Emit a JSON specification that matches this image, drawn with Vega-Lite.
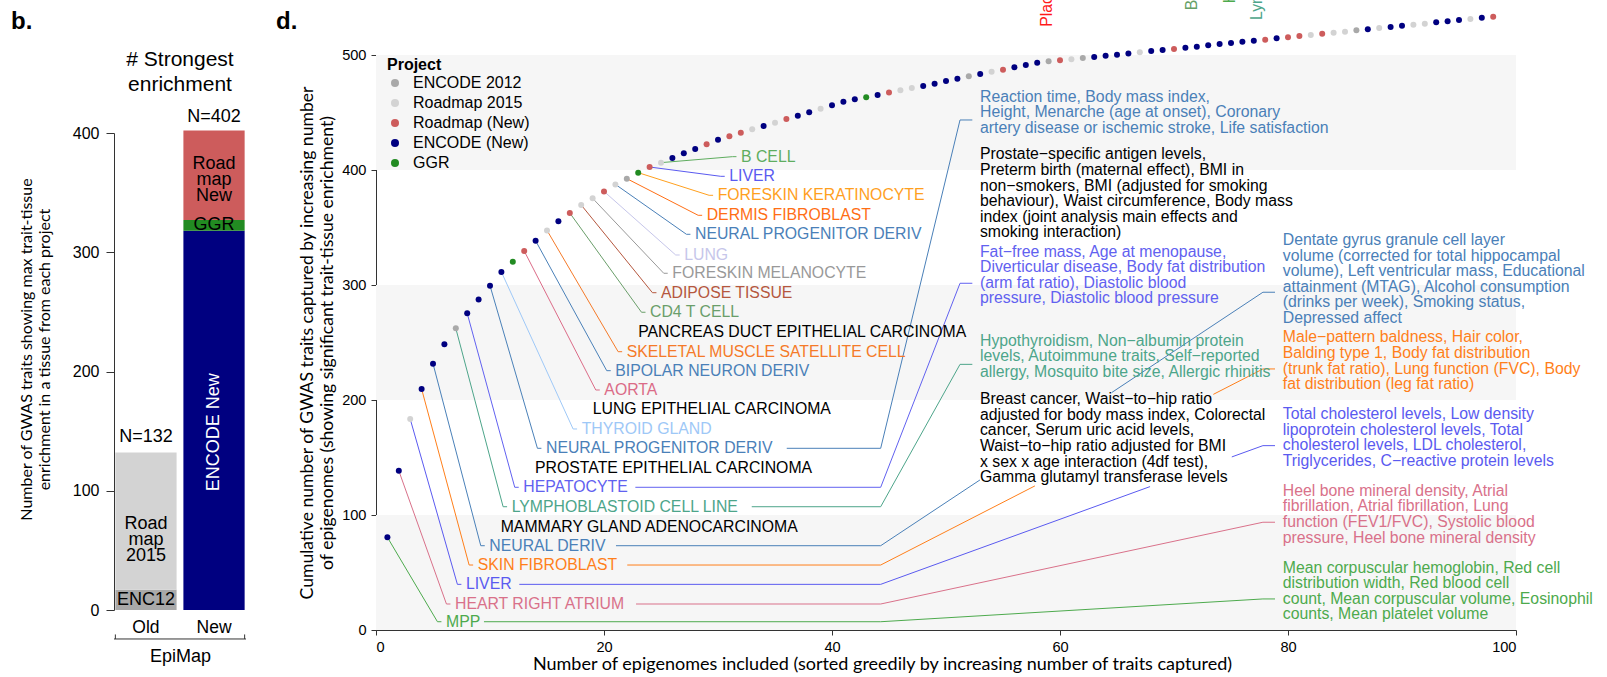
{
  "$schema": "https://vega.github.io/schema/vega-lite/v6.json",
  "padding": {"left": 11, "top": 0, "right": 0, "bottom": 0},
  "bounds": "flush",
  "spacing": 130,
  "config": {
    "font": "Liberation Sans",
    "view": {"stroke": null},
    "axis": {"grid": false, "labelColor": "#000", "titleColor": "#000", "domainColor": "#333", "tickColor": "#333", "titleFontWeight": "normal", "titleFont": "Lato", "labelFont": "Liberation Sans"},
    "title": {"color": "#000"}
  },
  "datasets": {
    "bars": [
      {"g": "Old", "src": "ENC12", "v": 17, "k": 1},
      {"g": "Old", "src": "Roadmap 2015", "v": 115, "k": 2},
      {"g": "New", "src": "ENCODE New", "v": 318, "k": 1},
      {"g": "New", "src": "GGR", "v": 9, "k": 2},
      {"g": "New", "src": "Roadmap New", "v": 75, "k": 3}
    ],
    "barText": [
      {"g": "Old", "y": 8.4, "txt": "ENC12"},
      {"g": "Old", "y": 72.4, "txt": "Road\nmap\n2015"},
      {"g": "New", "y": 322.8, "txt": "GGR"},
      {"g": "New", "y": 374, "txt": "Road\nmap\nNew"},
      {"g": "Old", "y": 145, "txt": "N=132"},
      {"g": "New", "y": 413.4, "txt": "N=402"}
    ],
    "barVText": [{"g": "New", "y": 149, "txt": "ENCODE New"}],
    "heading": [{"y": 461.2, "txt": "# Strongest\nenrichment"}],
    "bracket": [{"lo": -24.3, "hi": -20.5}],
    "bands": [{"lo": 0, "hi": 100}, {"lo": 200, "hi": 300}, {"lo": 400, "hi": 500}],
    "points": [
      {"i": 1, "y": 80.6, "p": "ENCODE (New)"},
      {"i": 2, "y": 138.5, "p": "ENCODE (New)"},
      {"i": 3, "y": 183.5, "p": "Roadmap 2015"},
      {"i": 4, "y": 209.6, "p": "ENCODE (New)"},
      {"i": 5, "y": 231.6, "p": "ENCODE (New)"},
      {"i": 6, "y": 248.4, "p": "ENCODE (New)"},
      {"i": 7, "y": 262.3, "p": "ENCODE 2012"},
      {"i": 8, "y": 275.4, "p": "ENCODE (New)"},
      {"i": 9, "y": 287.3, "p": "ENCODE (New)"},
      {"i": 10, "y": 299.4, "p": "ENCODE (New)"},
      {"i": 11, "y": 311.3, "p": "ENCODE (New)"},
      {"i": 12, "y": 320.3, "p": "GGR"},
      {"i": 13, "y": 329.6, "p": "Roadmap (New)"},
      {"i": 14, "y": 338.5, "p": "ENCODE (New)"},
      {"i": 15, "y": 347.5, "p": "Roadmap 2015"},
      {"i": 16, "y": 355.4, "p": "ENCODE (New)"},
      {"i": 17, "y": 362.6, "p": "Roadmap (New)"},
      {"i": 18, "y": 369.6, "p": "Roadmap 2015"},
      {"i": 19, "y": 375.4, "p": "Roadmap 2015"},
      {"i": 20, "y": 381.4, "p": "Roadmap (New)"},
      {"i": 21, "y": 387.5, "p": "Roadmap 2015"},
      {"i": 22, "y": 392.5, "p": "ENCODE 2012"},
      {"i": 23, "y": 397.7, "p": "GGR"},
      {"i": 24, "y": 402.6, "p": "Roadmap (New)"},
      {"i": 25, "y": 406.4, "p": "Roadmap 2015"},
      {"i": 26, "y": 410.4, "p": "ENCODE (New)"},
      {"i": 27, "y": 414.5, "p": "ENCODE (New)"},
      {"i": 28, "y": 418.3, "p": "ENCODE (New)"},
      {"i": 29, "y": 422.3, "p": "Roadmap (New)"},
      {"i": 30, "y": 426.4, "p": "ENCODE (New)"},
      {"i": 31, "y": 429.3, "p": "Roadmap (New)"},
      {"i": 32, "y": 432.5, "p": "Roadmap (New)"},
      {"i": 33, "y": 435.4, "p": "Roadmap 2015"},
      {"i": 34, "y": 438.3, "p": "ENCODE (New)"},
      {"i": 35, "y": 441.1, "p": "Roadmap 2015"},
      {"i": 36, "y": 444.3, "p": "Roadmap (New)"},
      {"i": 37, "y": 447.2, "p": "ENCODE (New)"},
      {"i": 38, "y": 450.2, "p": "ENCODE (New)"},
      {"i": 39, "y": 453.3, "p": "Roadmap 2015"},
      {"i": 40, "y": 456.2, "p": "ENCODE (New)"},
      {"i": 41, "y": 459.4, "p": "ENCODE (New)"},
      {"i": 42, "y": 461.5, "p": "ENCODE (New)"},
      {"i": 43, "y": 463.2, "p": "GGR"},
      {"i": 44, "y": 465.2, "p": "ENCODE (New)"},
      {"i": 45, "y": 467.5, "p": "Roadmap (New)"},
      {"i": 46, "y": 469.3, "p": "Roadmap 2015"},
      {"i": 47, "y": 471.3, "p": "Roadmap 2015"},
      {"i": 48, "y": 473, "p": "ENCODE (New)"},
      {"i": 49, "y": 475, "p": "ENCODE (New)"},
      {"i": 50, "y": 477.4, "p": "ENCODE (New)"},
      {"i": 51, "y": 479.4, "p": "ENCODE (New)"},
      {"i": 52, "y": 481.5, "p": "ENCODE 2012"},
      {"i": 53, "y": 483.5, "p": "ENCODE (New)"},
      {"i": 54, "y": 485.5, "p": "Roadmap 2015"},
      {"i": 55, "y": 487.2, "p": "Roadmap (New)"},
      {"i": 56, "y": 489.3, "p": "ENCODE (New)"},
      {"i": 57, "y": 491.3, "p": "ENCODE (New)"},
      {"i": 58, "y": 493.3, "p": "ENCODE (New)"},
      {"i": 59, "y": 494.5, "p": "ENCODE 2012"},
      {"i": 60, "y": 495.4, "p": "Roadmap (New)"},
      {"i": 61, "y": 496.2, "p": "Roadmap 2015"},
      {"i": 62, "y": 497.4, "p": "ENCODE 2012"},
      {"i": 63, "y": 498.3, "p": "ENCODE (New)"},
      {"i": 64, "y": 499.4, "p": "ENCODE (New)"},
      {"i": 65, "y": 500.3, "p": "ENCODE (New)"},
      {"i": 66, "y": 501.4, "p": "ENCODE (New)"},
      {"i": 67, "y": 502.3, "p": "Roadmap 2015"},
      {"i": 68, "y": 503.5, "p": "ENCODE (New)"},
      {"i": 69, "y": 504.3, "p": "ENCODE (New)"},
      {"i": 70, "y": 505.2, "p": "Roadmap (New)"},
      {"i": 71, "y": 506.4, "p": "ENCODE (New)"},
      {"i": 72, "y": 507.2, "p": "ENCODE (New)"},
      {"i": 73, "y": 508.4, "p": "ENCODE (New)"},
      {"i": 74, "y": 509.6, "p": "ENCODE (New)"},
      {"i": 75, "y": 510.4, "p": "ENCODE (New)"},
      {"i": 76, "y": 511.6, "p": "ENCODE (New)"},
      {"i": 77, "y": 512.4, "p": "ENCODE (New)"},
      {"i": 78, "y": 513.3, "p": "Roadmap (New)"},
      {"i": 79, "y": 514.5, "p": "ENCODE (New)"},
      {"i": 80, "y": 515.4, "p": "Roadmap (New)"},
      {"i": 81, "y": 516.5, "p": "Roadmap (New)"},
      {"i": 82, "y": 517.4, "p": "Roadmap 2015"},
      {"i": 83, "y": 518.5, "p": "Roadmap (New)"},
      {"i": 84, "y": 519.4, "p": "Roadmap 2015"},
      {"i": 85, "y": 520.3, "p": "Roadmap 2015"},
      {"i": 86, "y": 521.5, "p": "ENCODE 2012"},
      {"i": 87, "y": 522.3, "p": "ENCODE (New)"},
      {"i": 88, "y": 523.5, "p": "Roadmap 2015"},
      {"i": 89, "y": 524.3, "p": "ENCODE (New)"},
      {"i": 90, "y": 525.5, "p": "ENCODE (New)"},
      {"i": 91, "y": 526.4, "p": "Roadmap 2015"},
      {"i": 92, "y": 527.2, "p": "Roadmap 2015"},
      {"i": 93, "y": 528.4, "p": "ENCODE (New)"},
      {"i": 94, "y": 529.3, "p": "ENCODE (New)"},
      {"i": 95, "y": 530.4, "p": "ENCODE (New)"},
      {"i": 96, "y": 531.3, "p": "Roadmap 2015"},
      {"i": 97, "y": 532.4, "p": "ENCODE (New)"},
      {"i": 98, "y": 533.3, "p": "Roadmap (New)"}
    ],
    "leaders": [
      {"id": "a1", "o": 0, "x": 1, "y": 80.6, "t": "MPP"},
      {"id": "a1", "o": 1, "x": 5.39, "y": 7.2, "t": "MPP"},
      {"id": "a1", "o": 2, "x": 5.74, "y": 7.2, "t": "MPP"},
      {"id": "a2", "o": 0, "x": 2, "y": 138.5, "t": "HEART RIGHT ATRIUM"},
      {"id": "a2", "o": 1, "x": 6.18, "y": 22.6, "t": "HEART RIGHT ATRIUM"},
      {"id": "a2", "o": 2, "x": 6.53, "y": 22.6, "t": "HEART RIGHT ATRIUM"},
      {"id": "a3", "o": 0, "x": 3, "y": 183.5, "t": "LIVER"},
      {"id": "a3", "o": 1, "x": 7.14, "y": 39.7, "t": "LIVER"},
      {"id": "a3", "o": 2, "x": 7.49, "y": 39.7, "t": "LIVER"},
      {"id": "a4", "o": 0, "x": 4, "y": 209.6, "t": "SKIN FIBROBLAST"},
      {"id": "a4", "o": 1, "x": 8.17, "y": 56.5, "t": "SKIN FIBROBLAST"},
      {"id": "a4", "o": 2, "x": 8.52, "y": 56.5, "t": "SKIN FIBROBLAST"},
      {"id": "a5", "o": 0, "x": 5, "y": 231.6, "t": "NEURAL DERIV"},
      {"id": "a5", "o": 1, "x": 9.19, "y": 73.3, "t": "NEURAL DERIV"},
      {"id": "a5", "o": 2, "x": 9.54, "y": 73.3, "t": "NEURAL DERIV"},
      {"id": "a7", "o": 0, "x": 7, "y": 262.3, "t": "LYMPHOBLASTOID CELL LINE"},
      {"id": "a7", "o": 1, "x": 11.15, "y": 107.2, "t": "LYMPHOBLASTOID CELL LINE"},
      {"id": "a7", "o": 2, "x": 11.5, "y": 107.2, "t": "LYMPHOBLASTOID CELL LINE"},
      {"id": "a8", "o": 0, "x": 8, "y": 275.4, "t": "HEPATOCYTE"},
      {"id": "a8", "o": 1, "x": 12.17, "y": 124.1, "t": "HEPATOCYTE"},
      {"id": "a8", "o": 2, "x": 12.52, "y": 124.1, "t": "HEPATOCYTE"},
      {"id": "a10", "o": 0, "x": 10, "y": 299.4, "t": "NEURAL PROGENITOR DERIV"},
      {"id": "a10", "o": 1, "x": 14.16, "y": 158, "t": "NEURAL PROGENITOR DERIV"},
      {"id": "a10", "o": 2, "x": 14.51, "y": 158, "t": "NEURAL PROGENITOR DERIV"},
      {"id": "a11", "o": 0, "x": 11, "y": 311.3, "t": "THYROID GLAND"},
      {"id": "a11", "o": 1, "x": 17.29, "y": 174.8, "t": "THYROID GLAND"},
      {"id": "a11", "o": 2, "x": 17.64, "y": 174.8, "t": "THYROID GLAND"},
      {"id": "a13", "o": 0, "x": 13, "y": 329.6, "t": "AORTA"},
      {"id": "a13", "o": 1, "x": 19.28, "y": 208.7, "t": "AORTA"},
      {"id": "a13", "o": 2, "x": 19.63, "y": 208.7, "t": "AORTA"},
      {"id": "a14", "o": 0, "x": 14, "y": 338.5, "t": "BIPOLAR NEURON DERIV"},
      {"id": "a14", "o": 1, "x": 20.24, "y": 225.5, "t": "BIPOLAR NEURON DERIV"},
      {"id": "a14", "o": 2, "x": 20.59, "y": 225.5, "t": "BIPOLAR NEURON DERIV"},
      {"id": "a15", "o": 0, "x": 15, "y": 347.5, "t": "SKELETAL MUSCLE SATELLITE CELL"},
      {"id": "a15", "o": 1, "x": 21.24, "y": 242, "t": "SKELETAL MUSCLE SATELLITE CELL"},
      {"id": "a15", "o": 2, "x": 21.59, "y": 242, "t": "SKELETAL MUSCLE SATELLITE CELL"},
      {"id": "a17", "o": 0, "x": 17, "y": 362.6, "t": "CD4 T CELL"},
      {"id": "a17", "o": 1, "x": 23.29, "y": 276.3, "t": "CD4 T CELL"},
      {"id": "a17", "o": 2, "x": 23.64, "y": 276.3, "t": "CD4 T CELL"},
      {"id": "a18", "o": 0, "x": 18, "y": 369.6, "t": "ADIPOSE TISSUE"},
      {"id": "a18", "o": 1, "x": 24.25, "y": 293.3, "t": "ADIPOSE TISSUE"},
      {"id": "a18", "o": 2, "x": 24.6, "y": 293.3, "t": "ADIPOSE TISSUE"},
      {"id": "a19", "o": 0, "x": 19, "y": 375.4, "t": "FORESKIN MELANOCYTE"},
      {"id": "a19", "o": 1, "x": 25.24, "y": 310.2, "t": "FORESKIN MELANOCYTE"},
      {"id": "a19", "o": 2, "x": 25.59, "y": 310.2, "t": "FORESKIN MELANOCYTE"},
      {"id": "a20", "o": 0, "x": 20, "y": 381.4, "t": "LUNG"},
      {"id": "a20", "o": 1, "x": 26.29, "y": 326.1, "t": "LUNG"},
      {"id": "a20", "o": 2, "x": 26.64, "y": 326.1, "t": "LUNG"},
      {"id": "a21", "o": 0, "x": 21, "y": 387.5, "t": "NEURAL PROGENITOR DERIV"},
      {"id": "a21", "o": 1, "x": 27.23, "y": 344.1, "t": "NEURAL PROGENITOR DERIV"},
      {"id": "a21", "o": 2, "x": 27.58, "y": 344.1, "t": "NEURAL PROGENITOR DERIV"},
      {"id": "a22", "o": 0, "x": 22, "y": 392.5, "t": "DERMIS FIBROBLAST"},
      {"id": "a22", "o": 1, "x": 28.26, "y": 360.6, "t": "DERMIS FIBROBLAST"},
      {"id": "a22", "o": 2, "x": 28.61, "y": 360.6, "t": "DERMIS FIBROBLAST"},
      {"id": "a23", "o": 0, "x": 23, "y": 397.7, "t": "FORESKIN KERATINOCYTE"},
      {"id": "a23", "o": 1, "x": 29.22, "y": 378, "t": "FORESKIN KERATINOCYTE"},
      {"id": "a23", "o": 2, "x": 29.57, "y": 378, "t": "FORESKIN KERATINOCYTE"},
      {"id": "a24", "o": 0, "x": 24, "y": 402.6, "t": "LIVER"},
      {"id": "a24", "o": 1, "x": 30.24, "y": 394.5, "t": "LIVER"},
      {"id": "a24", "o": 2, "x": 30.59, "y": 394.5, "t": "LIVER"},
      {"id": "a25", "o": 0, "x": 25, "y": 406.4, "t": "B CELL"},
      {"id": "a25", "o": 1, "x": 31.27, "y": 411.6, "t": "B CELL"},
      {"id": "a25", "o": 2, "x": 31.62, "y": 411.6, "t": "B CELL"},
      {"id": "m2", "o": 0, "x": 9.47, "y": 7.2, "t": "MPP"},
      {"id": "m2", "o": 1, "x": 44.27, "y": 7.2, "t": "MPP"},
      {"id": "m2", "o": 2, "x": 77.8, "y": 27, "t": "MPP"},
      {"id": "m2", "o": 3, "x": 78.86, "y": 27, "t": "MPP"},
      {"id": "h2", "o": 0, "x": 22.81, "y": 22.6, "t": "HEART RIGHT ATRIUM"},
      {"id": "h2", "o": 1, "x": 44.27, "y": 22.6, "t": "HEART RIGHT ATRIUM"},
      {"id": "h2", "o": 2, "x": 77.8, "y": 93.7, "t": "HEART RIGHT ATRIUM"},
      {"id": "h2", "o": 3, "x": 78.86, "y": 93.7, "t": "HEART RIGHT ATRIUM"},
      {"id": "l2a", "o": 0, "x": 12.57, "y": 39.7, "t": "LIVER"},
      {"id": "l2a", "o": 1, "x": 44.27, "y": 39.7, "t": "LIVER"},
      {"id": "l2a", "o": 2, "x": 67.9, "y": 124.7, "t": "LIVER"},
      {"id": "l2b", "o": 0, "x": 75.07, "y": 150.5, "t": "LIVER"},
      {"id": "l2b", "o": 1, "x": 77.8, "y": 160.3, "t": "LIVER"},
      {"id": "l2b", "o": 2, "x": 78.86, "y": 160.3, "t": "LIVER"},
      {"id": "s2a", "o": 0, "x": 22.04, "y": 56.5, "t": "SKIN FIBROBLAST"},
      {"id": "s2a", "o": 1, "x": 44.27, "y": 56.5, "t": "SKIN FIBROBLAST"},
      {"id": "s2a", "o": 2, "x": 57.8, "y": 125.3, "t": "SKIN FIBROBLAST"},
      {"id": "s2b", "o": 0, "x": 73.45, "y": 204.9, "t": "SKIN FIBROBLAST"},
      {"id": "s2b", "o": 1, "x": 77.8, "y": 227, "t": "SKIN FIBROBLAST"},
      {"id": "s2b", "o": 2, "x": 78.86, "y": 227, "t": "SKIN FIBROBLAST"},
      {"id": "n2a", "o": 0, "x": 21.05, "y": 73.3, "t": "NEURAL DERIV"},
      {"id": "n2a", "o": 1, "x": 44.27, "y": 73.3, "t": "NEURAL DERIV"},
      {"id": "n2a", "o": 2, "x": 52.98, "y": 130.5, "t": "NEURAL DERIV"},
      {"id": "n2b", "o": 0, "x": 64.54, "y": 206.5, "t": "NEURAL DERIV"},
      {"id": "n2b", "o": 1, "x": 77.8, "y": 293.7, "t": "NEURAL DERIV"},
      {"id": "n2b", "o": 2, "x": 78.86, "y": 293.7, "t": "NEURAL DERIV"},
      {"id": "y2", "o": 0, "x": 32.96, "y": 107.2, "t": "LYMPHOBLASTOID CELL LINE"},
      {"id": "y2", "o": 1, "x": 44.27, "y": 107.2, "t": "LYMPHOBLASTOID CELL LINE"},
      {"id": "y2", "o": 2, "x": 51.23, "y": 231, "t": "LYMPHOBLASTOID CELL LINE"},
      {"id": "y2", "o": 3, "x": 52.31, "y": 231, "t": "LYMPHOBLASTOID CELL LINE"},
      {"id": "p2", "o": 0, "x": 22.75, "y": 124.1, "t": "HEPATOCYTE"},
      {"id": "p2", "o": 1, "x": 44.27, "y": 124.1, "t": "HEPATOCYTE"},
      {"id": "p2", "o": 2, "x": 51.23, "y": 301.5, "t": "HEPATOCYTE"},
      {"id": "p2", "o": 3, "x": 52.31, "y": 301.5, "t": "HEPATOCYTE"},
      {"id": "g2", "o": 0, "x": 36.03, "y": 158, "t": "NEURAL PROGENITOR DERIV"},
      {"id": "g2", "o": 1, "x": 44.27, "y": 158, "t": "NEURAL PROGENITOR DERIV"},
      {"id": "g2", "o": 2, "x": 51.23, "y": 443.5, "t": "NEURAL PROGENITOR DERIV"},
      {"id": "g2", "o": 3, "x": 52.31, "y": 443.5, "t": "NEURAL PROGENITOR DERIV"}
    ],
    "cells": [
      {"t": "MPP", "lx": 6.14, "ly": 7.2},
      {"t": "HEART RIGHT ATRIUM", "lx": 6.93, "ly": 22.6},
      {"t": "LIVER", "lx": 7.89, "ly": 39.7},
      {"t": "SKIN FIBROBLAST", "lx": 8.92, "ly": 56.5},
      {"t": "NEURAL DERIV", "lx": 9.94, "ly": 73.3},
      {"t": "MAMMARY GLAND ADENOCARCINOMA", "lx": 10.94, "ly": 89.8},
      {"t": "LYMPHOBLASTOID CELL LINE", "lx": 11.9, "ly": 107.2},
      {"t": "HEPATOCYTE", "lx": 12.92, "ly": 124.1},
      {"t": "PROSTATE EPITHELIAL CARCINOMA", "lx": 13.95, "ly": 141.1},
      {"t": "NEURAL PROGENITOR DERIV", "lx": 14.91, "ly": 158},
      {"t": "THYROID GLAND", "lx": 18.04, "ly": 174.8},
      {"t": "LUNG EPITHELIAL CARCINOMA", "lx": 19.01, "ly": 191.9},
      {"t": "AORTA", "lx": 20.03, "ly": 208.7},
      {"t": "BIPOLAR NEURON DERIV", "lx": 20.99, "ly": 225.5},
      {"t": "SKELETAL MUSCLE SATELLITE CELL", "lx": 21.99, "ly": 242},
      {"t": "PANCREAS DUCT EPITHELIAL CARCINOMA", "lx": 23.0, "ly": 259.4},
      {"t": "CD4 T CELL", "lx": 24.04, "ly": 276.3},
      {"t": "ADIPOSE TISSUE", "lx": 25.0, "ly": 293.3},
      {"t": "FORESKIN MELANOCYTE", "lx": 25.99, "ly": 310.2},
      {"t": "LUNG", "lx": 27.04, "ly": 326.1},
      {"t": "NEURAL PROGENITOR DERIV", "lx": 27.98, "ly": 344.1},
      {"t": "DERMIS FIBROBLAST", "lx": 29.01, "ly": 360.6},
      {"t": "FORESKIN KERATINOCYTE", "lx": 29.97, "ly": 378},
      {"t": "LIVER", "lx": 30.99, "ly": 394.5},
      {"t": "B CELL", "lx": 32.02, "ly": 411.6}
    ],
    "traits": [
      {"t": "NEURAL PROGENITOR DERIV", "tx": 52.98, "ty": 463.7, "txt": "Reaction time, Body mass index,\nHeight, Menarche (age at onset), Coronary\nartery disease or ischemic stroke, Life satisfaction"},
      {"t": "PROSTATE EPITHELIAL CARCINOMA", "tx": 52.98, "ty": 413.6, "txt": "Prostate−specific antigen levels,\nPreterm birth (maternal effect), BMI in\nnon−smokers, BMI (adjusted for smoking\nbehaviour), Waist circumference, Body mass\nindex (joint analysis main effects and\nsmoking interaction)"},
      {"t": "HEPATOCYTE", "tx": 52.98, "ty": 329.0, "txt": "Fat−free mass, Age at menopause,\nDiverticular disease, Body fat distribution\n(arm fat ratio), Diastolic blood\npressure, Diastolic blood pressure"},
      {"t": "LYMPHOBLASTOID CELL LINE", "tx": 52.98, "ty": 251.6, "txt": "Hypothyroidism, Non−albumin protein\nlevels, Autoimmune traits, Self−reported\nallergy, Mosquito bite size, Allergic rhinitis"},
      {"t": "MAMMARY GLAND ADENOCARCINOMA", "tx": 52.98, "ty": 200.6, "txt": "Breast cancer, Waist−to−hip ratio\nadjusted for body mass index, Colorectal\ncancer, Serum uric acid levels,\nWaist−to−hip ratio adjusted for BMI\nx sex x age interaction (4df test),\nGamma glutamyl transferase levels"},
      {"t": "NEURAL DERIV", "tx": 79.54, "ty": 339.1, "txt": "Dentate gyrus granule cell layer\nvolume (corrected for total hippocampal\nvolume), Left ventricular mass, Educational\nattainment (MTAG), Alcohol consumption\n(drinks per week), Smoking status,\nDepressed affect"},
      {"t": "SKIN FIBROBLAST", "tx": 79.54, "ty": 254.5, "txt": "Male−pattern baldness, Hair color,\nBalding type 1, Body fat distribution\n(trunk fat ratio), Lung function (FVC), Body\nfat distribution (leg fat ratio)"},
      {"t": "LIVER", "tx": 79.54, "ty": 187.8, "txt": "Total cholesterol levels, Low density\nlipoprotein cholesterol levels, Total\ncholesterol levels, LDL cholesterol,\nTriglycerides, C−reactive protein levels"},
      {"t": "HEART RIGHT ATRIUM", "tx": 79.54, "ty": 121.1, "txt": "Heel bone mineral density, Atrial\nfibrillation, Atrial fibrillation, Lung\nfunction (FEV1/FVC), Systolic blood\npressure, Heel bone mineral density"},
      {"t": "MPP", "tx": 79.54, "ty": 54.2, "txt": "Mean corpuscular hemoglobin, Red cell\ndistribution width, Red blood cell\ncount, Mean corpuscular volume, Eosinophil\ncounts, Mean platelet volume"}
    ],
    "groups": [
      {"t": "Placenta & EEM", "gx": 58.9, "gy": 524.6},
      {"t": "Blood & T-cell", "gx": 71.55, "gy": 539},
      {"t": "HSC & B-cell", "gx": 74.9, "gy": 545},
      {"t": "Lymphoblastoid", "gx": 77.3, "gy": 530.4}
    ]
  },
  "hconcat": [
    {
      "width": 132,
      "height": 610,
      "title": {"text": "b.", "anchor": "start", "frame": "group", "dx": -103, "dy": 53, "offset": 0, "baseline": "alphabetic", "fontSize": 24, "fontWeight": "bold", "font": "Liberation Sans"},
      "layer": [
        {
          "data": {"name": "bars"},
          "mark": {"type": "bar"},
          "encoding": {
            "x": {"field": "g", "type": "nominal", "sort": ["Old", "New"], "scale": {"paddingInner": 0.1, "paddingOuter": 0.02},
                  "axis": {"title": "EpiMap", "labelAngle": 0, "ticks": false, "domain": false, "labelFontSize": 17.5, "labelPadding": 8, "titleFont": "Liberation Sans", "titleFontSize": 18, "titlePadding": 12}},
            "y": {"field": "v", "type": "quantitative", "stack": "zero", "scale": {"domain": [0, 400], "nice": false, "rangeMax": 133},
                  "axis": {"values": [0, 100, 200, 300, 400], "tickSize": 8, "labelPadding": 7, "labelFontSize": 16, "title": ["Number of GWAS traits showing max trait-tissue", "enrichment in a tissue from each project"], "titleFontSize": 16, "titleLineHeight": 18, "titlePadding": 20, "titleY": 349}},
            "color": {"field": "src", "type": "nominal", "scale": {"domain": ["ENC12", "Roadmap 2015", "ENCODE New", "GGR", "Roadmap New"], "range": ["#A9A9A9", "#D3D3D3", "#000080", "#228B22", "#CD5C5C"]}, "legend": null},
            "order": {"field": "k", "type": "quantitative"}
          }
        },
        {
          "data": {"name": "barText"},
          "mark": {"type": "text", "fontSize": 18, "lineHeight": 16, "lineBreak": "\n", "baseline": "middle", "align": "center", "color": "#000"},
          "encoding": {
            "x": {"field": "g", "type": "nominal", "sort": ["Old", "New"]},
            "y": {"field": "y", "type": "quantitative"},
            "text": {"field": "txt", "type": "nominal"}
          }
        },
        {
          "data": {"name": "barVText"},
          "mark": {"type": "text", "fontSize": 18, "angle": 270, "baseline": "middle", "align": "center", "color": "#FFFFFF"},
          "encoding": {
            "x": {"field": "g", "type": "nominal", "sort": ["Old", "New"]},
            "y": {"field": "y", "type": "quantitative"},
            "text": {"field": "txt", "type": "nominal"}
          }
        },
        {
          "data": {"name": "heading"},
          "mark": {"type": "text", "fontSize": 21, "lineHeight": 24.6, "lineBreak": "\n", "baseline": "middle", "align": "center", "color": "#000"},
          "encoding": {
            "y": {"field": "y", "type": "quantitative"},
            "text": {"field": "txt", "type": "nominal"}
          }
        },
        {
          "data": {"name": "bracket"},
          "mark": {"type": "rule", "color": "#333", "strokeWidth": 1},
          "encoding": {"y": {"field": "lo", "type": "quantitative"}}
        },
        {
          "data": {"name": "bracket"},
          "mark": {"type": "rule", "color": "#333", "strokeWidth": 1},
          "encoding": {"x": {"datum": "Old", "bandPosition": 0}, "y": {"field": "lo", "type": "quantitative"}, "y2": {"field": "hi"}}
        },
        {
          "data": {"name": "bracket"},
          "mark": {"type": "rule", "color": "#333", "strokeWidth": 1},
          "encoding": {"x": {"datum": "New", "bandPosition": 1}, "y": {"field": "lo", "type": "quantitative"}, "y2": {"field": "hi"}}
        }
      ]
    },
    {
      "width": 1140,
      "height": 630,
      "title": {"text": "d.", "anchor": "start", "frame": "group", "dx": -100, "dy": 53, "offset": 0, "baseline": "alphabetic", "fontSize": 24, "fontWeight": "bold", "font": "Liberation Sans"},
      "resolve": {"scale": {"color": "independent"}},
      "layer": [
        {
          "data": {"name": "bands"},
          "mark": {"type": "rect", "color": "#F6F6F6"},
          "encoding": {
            "x": {"datum": 0, "type": "quantitative", "scale": {"domain": [0, 100], "nice": false, "zero": false},
                  "axis": {"values": [0, 20, 40, 60, 80, 100], "title": "Number of epigenomes included (sorted greedily by increasing number of traits captured)", "tickSize": 5, "labelPadding": 4, "labelFontSize": 14.6, "titleFontSize": 18, "titlePadding": 2, "titleX": 506}},
            "x2": {"datum": 100},
            "y": {"field": "lo", "type": "quantitative", "scale": {"domain": [0, 500], "nice": false, "rangeMax": 55},
                  "axis": {"values": [0, 100, 200, 300, 400, 500], "title": ["Cumulative number of GWAS traits captured by increasing number", "of epigenomes (showing significant trait-tissue enrichment)"], "tickSize": 5, "labelPadding": 5, "labelFontSize": 14.6, "titleFontSize": 17.6, "titleLineHeight": 20, "titlePadding": 5}},
            "y2": {"field": "hi"}
          }
        },
        {
          "layer": [
            {
              "data": {"name": "leaders"},
              "mark": {"type": "line", "strokeWidth": 1},
              "encoding": {
                "x": {"field": "x", "type": "quantitative"},
                "y": {"field": "y", "type": "quantitative"},
                "detail": {"field": "id", "type": "nominal"},
                "order": {"field": "o", "type": "quantitative"},
                "color": {"field": "t", "type": "nominal", "legend": null,
                  "scale": {
                    "domain": ["MPP", "HEART RIGHT ATRIUM", "LIVER", "SKIN FIBROBLAST", "NEURAL DERIV", "MAMMARY GLAND ADENOCARCINOMA", "LYMPHOBLASTOID CELL LINE", "HEPATOCYTE", "PROSTATE EPITHELIAL CARCINOMA", "NEURAL PROGENITOR DERIV", "THYROID GLAND", "LUNG EPITHELIAL CARCINOMA", "AORTA", "BIPOLAR NEURON DERIV", "SKELETAL MUSCLE SATELLITE CELL", "PANCREAS DUCT EPITHELIAL CARCINOMA", "CD4 T CELL", "ADIPOSE TISSUE", "FORESKIN MELANOCYTE", "LUNG", "DERMIS FIBROBLAST", "FORESKIN KERATINOCYTE", "B CELL", "Placenta & EEM", "Blood & T-cell", "HSC & B-cell", "Lymphoblastoid"],
                    "range": ["#4DAA4D", "#D9718A", "#5A5AF0", "#FF7F1A", "#4A80B8", "#000000", "#4DA58A", "#6161F0", "#000000", "#4A80B8", "#9EC8F7", "#000000", "#DB6B87", "#4A80B8", "#F57A28", "#000000", "#6A9E6A", "#B5573E", "#999999", "#C6C6EA", "#FF6E14", "#FFA01E", "#5FAD5F", "#FF1A1A", "#66A066", "#4DAA4D", "#4DA58A"]
                  }}
              }
            },
            {
              "data": {"name": "cells"},
              "mark": {"type": "text", "fontSize": 15.8, "align": "left", "baseline": "middle"},
              "encoding": {
                "x": {"field": "lx", "type": "quantitative"},
                "y": {"field": "ly", "type": "quantitative"},
                "text": {"field": "t", "type": "nominal"},
                "color": {"field": "t", "type": "nominal", "legend": null}
              }
            },
            {
              "data": {"name": "traits"},
              "mark": {"type": "text", "fontSize": 15.8, "lineHeight": 15.6, "lineBreak": "\n", "align": "left", "baseline": "middle"},
              "encoding": {
                "x": {"field": "tx", "type": "quantitative"},
                "y": {"field": "ty", "type": "quantitative"},
                "text": {"field": "txt", "type": "nominal"},
                "color": {"field": "t", "type": "nominal", "legend": null}
              }
            },
            {
              "data": {"name": "groups"},
              "mark": {"type": "text", "fontSize": 15.8, "angle": 270, "align": "left", "baseline": "middle", "clip": true},
              "encoding": {
                "x": {"field": "gx", "type": "quantitative"},
                "y": {"field": "gy", "type": "quantitative"},
                "text": {"field": "t", "type": "nominal"},
                "color": {"field": "t", "type": "nominal", "legend": null}
              }
            }
          ]
        },
        {
          "data": {"name": "points"},
          "mark": {"type": "circle", "size": 36, "opacity": 1},
          "encoding": {
            "x": {"field": "i", "type": "quantitative"},
            "y": {"field": "y", "type": "quantitative"},
            "color": {"field": "p", "type": "nominal",
              "scale": {"domain": ["ENCODE 2012", "Roadmap 2015", "Roadmap (New)", "ENCODE (New)", "GGR"], "range": ["#A9A9A9", "#D3D3D3", "#CD5C5C", "#000080", "#228B22"]},
              "legend": {"title": "Project", "orient": "none", "legendX": 11, "legendY": 57, "padding": 0, "titleFontSize": 16, "titleFontWeight": "bold", "titleFont": "Liberation Sans", "titlePadding": 2, "labelFontSize": 16, "labelFont": "Liberation Sans", "labelOffset": 10, "symbolSize": 64, "symbolType": "circle", "symbolStrokeWidth": 0, "rowPadding": 4}}
          }
        }
      ]
    }
  ]
}
